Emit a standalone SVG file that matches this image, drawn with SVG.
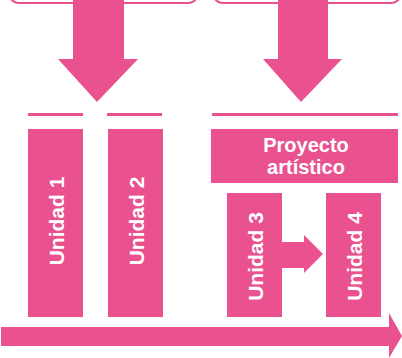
<svg xmlns="http://www.w3.org/2000/svg" width="402" height="358" viewBox="0 0 402 358">
<style>
.box{fill:#fff;stroke:#E9528F;stroke-width:2}
.fill{fill:#E9528F}
.line{stroke:#E9528F;stroke-width:3}
.lbl{font-family:"Liberation Sans",Arial,sans-serif;font-weight:bold;font-size:21px;fill:#fff;text-anchor:middle}
.lbl2{font-family:"Liberation Sans",Arial,sans-serif;font-weight:bold;font-size:20px;fill:#fff;text-anchor:middle}
</style>
<rect width="402" height="358" fill="#fff"/>
<g id="top-left"><rect class="box" x="9" y="-40" width="189" height="43" rx="10"/></g>
<g id="top-right"><rect class="box" x="213" y="-40" width="188" height="43" rx="10"/></g>
<g id="connectors">
<polygon class="fill" points="73,0 124,0 124,59 138,59 97,102 58,59 73,59"/>
<polygon class="fill" points="278,0 328,0 328,59 342,59 301,102 263,59 278,59"/>
<line class="line" x1="28" y1="114.5" x2="83" y2="114.5"/>
<line class="line" x1="107" y1="114.5" x2="162" y2="114.5"/>
<line class="line" x1="212" y1="114.5" x2="398" y2="114.5"/>
<polygon class="fill" points="282,242 304,242 304,235 323,254 304,273 304,268 282,268"/>
<polygon class="fill" points="1,327 389,327 389,313 402,336 389,358 389,346 1,346"/>
</g>
<g id="unidad1"><rect class="fill" x="28" y="129" width="55" height="188"/><text class="lbl" transform="translate(63.5,221) rotate(-90)">Unidad 1</text></g>
<g id="unidad2"><rect class="fill" x="108" y="129" width="55" height="188"/><text class="lbl" transform="translate(143.5,221) rotate(-90)">Unidad 2</text></g>
<g id="proyecto"><rect class="fill" x="211" y="129" width="187" height="54"/><text class="lbl2"><tspan x="306" y="152">Proyecto</tspan><tspan x="306" y="174">artístico</tspan></text></g>
<g id="unidad3"><rect class="fill" x="227" y="193" width="55" height="124"/><text class="lbl" transform="translate(262.5,256.5) rotate(-90)">Unidad 3</text></g>
<g id="unidad4"><rect class="fill" x="326" y="193" width="55" height="124"/><text class="lbl" transform="translate(362,256.5) rotate(-90)">Unidad 4</text></g>
</svg>
